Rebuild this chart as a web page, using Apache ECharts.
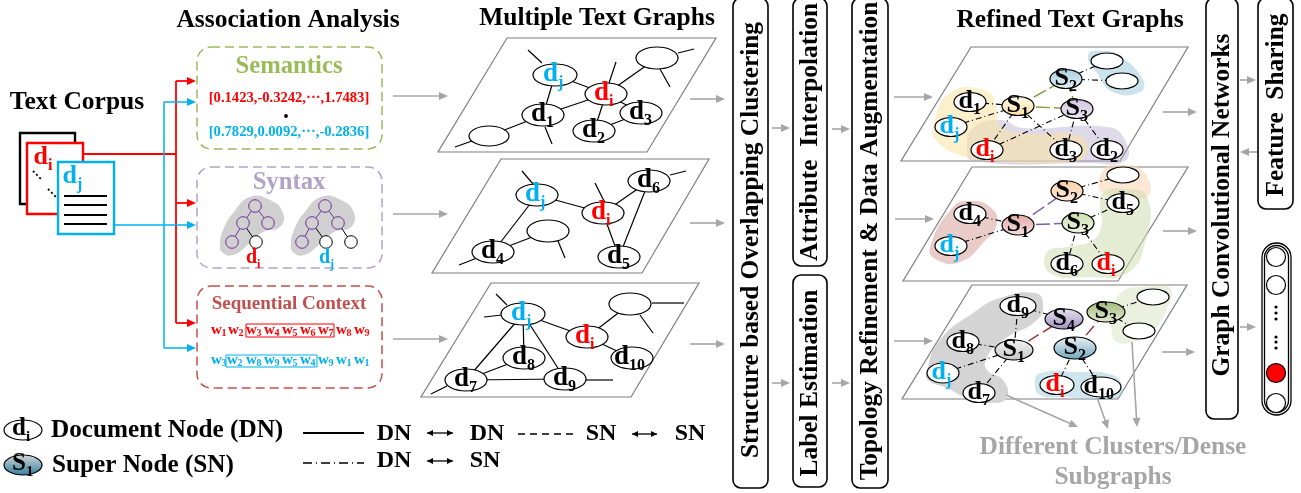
<!DOCTYPE html>
<html><head><meta charset="utf-8">
<style>html,body{margin:0;padding:0;background:#fff}#c{width:1301px;height:493px}</style>
<script src="https://cdn.jsdelivr.net/npm/echarts@6/dist/echarts.min.js"></script>
</head><body><div id="c"></div>
<script>
var RED='#ff0000',BLUE='#00b0f0',BLK='#000000',GRY='#a6a6a6',GREEN='#9bbb59',PUR='#b3a2c7',BRN='#c0504d';

// panels (parallelograms)
var panels=[
 [507,38,716,38,647,152,438,152],[501,159,709,159,642,273,432,273],[491,283,699,283,631,397,421,397],
 [971,47,1188,47,1120,161,901,161],[972,167,1188,167,1118,281,903,281],[972,285,1187,285,1118,399,902,399]];

// cluster blobs: colour, outline
var blobs=[
 ['rgba(178,166,205,0.42)',[1000,120,1023,128,1107,127,1125,140,1125,161,1090,163,973,161,967,147,973,128]],
 ['rgba(250,226,160,0.55)',[933,127,950,93,987,91,996,106,1000,125,1023,133,1080,136,1087,153,1075,161,990,161,957,154,936,140]],
 ['rgba(150,200,220,0.5)',[1088,55,1103,51,1120,56,1143,80,1140,92,1113,92,1097,73]],
 ['rgba(215,160,155,0.55)',[930,248,953,207,970,201,990,207,997,223,983,243,960,262,937,260]],
 ['rgba(250,215,185,0.6)',[1103,170,1117,165,1143,171,1147,197,1103,193]],
 ['rgba(205,220,175,0.55)',[1103,193,1123,189,1147,197,1145,243,1127,273,1090,277,1050,273,1047,252,1067,247,1093,240,1102,223,1100,207]],
 ['#d4d4d4',[927,370,940,340,973,313,1000,298,1035,293,1043,303,1037,320,1003,340,987,357,987,370,1003,380,1007,397,993,403,967,398,947,388,928,380]],
 ['rgba(150,200,220,0.45)',[1035,383,1040,373,1077,372,1113,375,1122,387,1117,398,1063,397,1040,395]],
 ['rgba(205,220,175,0.4)',[1112,313,1122,292,1143,287,1170,288,1165,313,1150,333,1132,342,1117,342,1112,333]],
 // syntax trees
 ['#d0d0d0',[220,243,223,230,233,213,250,197,270,200,283,213,280,227,263,232,250,243,233,255,222,252]],
 ['#d0d0d0',[291,243,294,230,304,213,321,197,341,200,354,213,351,227,334,232,321,243,304,255,293,252]]];

// text graphs: id,x,y,rx,ry,letter,subscript,text colour,fill top,fill bottom
var graphNodes1=[
 ['dj',555,75,22,11,'d','j',BLUE],['di',606,94,21,11,'d','i',RED],['d1',543,115,21,11,'d','1',BLK],
 ['d2',594,131,21,11,'d','2',BLK],['d3',641,113,21,11,'d','3',BLK],['a',657,58,21,11,'','',BLK],['b',489,136,20,10,'','',BLK]];
var graphEdges1=[['dj','di'],['dj','d1'],['d1','di'],['a','di'],['di','d2'],['d2','d3'],['di','d3'],['b','d1']];
var graphNodes2=[
 ['dj',537,195,21,11,'d','j',BLUE],['di',603,213,21,11,'d','i',RED],['d6',649,181,21,11,'d','6',BLK],
 ['a',548,231,21,11,'','',BLK],['d4',493,252,21,11,'d','4',BLK],['d5',619,257,21,11,'d','5',BLK]];
var graphEdges2=[['dj','di'],['di','d6'],['d6','d5'],['di','d5'],['dj','d4'],['d4','a']];
var graphNodes3=[
 ['dj',523,314,22,11,'d','j',BLUE],['di',587,337,21,11,'d','i',RED],['a',630,304,21,11,'','',BLK],
 ['d8',524,358,21,11,'d','8',BLK],['d10',632,358,21,11,'d','10',BLK],['d7',466,380,21,11,'d','7',BLK],['d9',565,379,21,11,'d','9',BLK]];
var graphEdges3=[['dj','di'],['di','a'],['di','d10'],['dj','d7'],['dj','d8'],['dj','d9'],['d8','d7'],['d7','d9']];

var refinedNodes1=[
 ['d1',970,102,16,9.5,'d','1',BLK],['S1',1018,106,16,9.5,'S','1',BLK,'#fffbea','#f8dfa6'],['S2',1066,79,16,9.5,'S','2',BLK,'#a9d0df','#e3f0f5'],
 ['S3',1077,109,16,9.5,'S','3',BLK,'#cfc6e0','#ece8f3'],['dj',951,127,16,9.5,'d','j',BLUE],['di',987,150,16,9.5,'d','i',RED],
 ['d3',1066,150,16,9.5,'d','3',BLK],['d2',1107,150,16,9.5,'d','2',BLK],['a',1107,61,16,8,'','',BLK],['b',1122,81,16,8,'','',BLK]];
var refinedEdges1=[['d1','S1','dd'],['dj','S1','dd'],['di','S1','dd'],['S1','d3','dd'],['di','S3','dd'],['S3','d3','dd'],['S3','d2','dd'],['S2','a','dd'],['S2','b','dd'],
 ['S1','S2','g'],['S1','S3','g'],['S2','S3','g']];
var refinedNodes2=[
 ['S1',1018,225,16,10,'S','1',BLK,'#e3aaa8','#f6dede'],['S2',1067,191,16,10,'S','2',BLK,'#fbd0a8','#fdeadb'],['S3',1078,223,16,10,'S','3',BLK,'#cfe0b0','#eef4e2'],
 ['d4',970,214,16,9.5,'d','4',BLK],['dj',951,246,16,9.5,'d','j',BLUE],['a',1123,175,16,8,'','',BLK],['d5',1123,203,16,9.5,'d','5',BLK],
 ['d6',1067,264,16,9.5,'d','6',BLK],['di',1108,264,16,9.5,'d','i',RED]];
var refinedEdges2=[['d4','S1','dd'],['dj','S1','dd'],['S2','a','dd'],['S2','d5','dd'],['S3','d5','dd'],['S3','d6','dd'],['S3','di','dd'],['S1','S2','p'],['S1','S3','p']];
var refinedNodes3=[
 ['d9',1018,306,18,9.5,'d','9',BLK],['S4',1064,319,19,10,'S','4',BLK,'#e8e4ef','#9f8fbf'],['S3',1106,312,19,10,'S','3',BLK,'#a0b878','#e4ecd2'],
 ['a',1153,297,16,8,'','',BLK],['b',1139,331,16,8,'','',BLK],['d8',963,342,16,9.5,'d','8',BLK],['S1',1014,350,19,10,'S','1',BLK,'#f4f4f4','#c4c4c4'],
 ['S2',1075,348,21,11,'S','2',BLK,'#eef3f5','#6fa6bd'],['dj',943,373,16,10,'d','j',BLUE],['d7',979,393,16,9.5,'d','7',BLK],['di',1057,385,17,9.5,'d','i',RED],['d10',1101,387,20,10,'d','10',BLK]];
var refinedEdges3=[['d9','S1','dd'],['d9','S4','dd'],['d8','S1','dd'],['dj','S1','dd'],['d7','S1','dd'],['S2','di','dd'],['S2','d10','dd'],['S3','a','dd'],['S3','b','dd'],['S1','S4','b'],['S2','S3','b']];

// loose edge ends
var looseEdges=[
 [528,50,542,63],[616,62,609,83],[678,53,694,49],[660,69,670,87],[545,127,552,144],[455,147,472,141],
 [522,171,533,184],[595,183,605,203],[670,175,686,171],[558,241,565,258],[459,265,477,258],
 [496,294,507,305],[484,317,502,315],[652,303,684,303],[640,315,653,333],[586,380,613,380],[431,394,447,386]];

// grey flow arrows
var flowArrows=[
 [393,96,448,96],[393,214,448,214],[393,339,448,339],
 [690,99,725,99],[690,223,725,223],[690,344,725,344],
 [772,128,790,128],[772,383,790,383],[832,129,850,129],[832,383,850,383],
 [894,97,933,97],[895,219,934,219],[894,341,933,341],
 [1163,112,1197,112],[1163,231,1197,231],[1162,352,1195,352],
 [1240,80,1256,80],[1257,152,1240,152],[1240,327,1256,327],
 [1006,395,1078,427],[1097,397,1108,429],[1132,342,1137,427]];

// source connectors
var redPaths=[[83,154,176,154],[176,81,176,323]];
var redArrows=[[176,81,196,81],[176,203,196,203],[176,323,196,323]];
var bluePaths=[[164,102,164,348]];
var blueArrows=[[164,102,196,102],[114,225,196,225],[164,348,196,348]];

// rounded process boxes
var boxes=[[733,-2,35,490,8],[793,-2,34,268,8],[793,275,34,212,8],[852,-2,36,490,8],[1206,-2,32,421,8],[1258,-2,35,211,8]];
var dashedBoxes=[[197,47,185,102,GREEN],[197,167,185,101,PUR],[197,286,185,102,BRN]];

// rotated step labels
var stepLabels=[
 ['Structure based Overlapping Clustering',751,240],['Attribute  Interpolation',810,132],['Label Estimation',810,383],
 ['Topology Refinement & Data Augmentation',870,241],['Graph Convolutional Networks',1222,205],['Feature  Sharing',1276,105]];

// plain texts: text,x,y,size,colour
var texts=[
 ['Association Analysis',288,20,25.5,BLK],['Multiple Text Graphs',597,18,25.5,BLK],['Refined Text Graphs',1070,20,25.5,BLK],['Text Corpus',77,102,25.5,BLK],
 ['Semantics',289,67,24.7,GREEN],['[0.1423,-0.3242,···,1.7483]',289,98,14.6,RED],['[0.7829,0.0092,···,-0.2836]',289,132,14.6,BLUE],
 ['Syntax',289,183,24.7,PUR],['Sequential Context',289,304,19,BRN],
 ['Different Clusters/Dense',1113,447,25.4,GRY],['Subgraphs',1113,477,25.4,GRY],
 ['DN',394,434,24,BLK],['DN',487,434,24,BLK],['SN',601,434,24,BLK],['SN',690,434,24,BLK],['DN',394,461,24,BLK],['SN',485,461,24,BLK]];
var legendTexts=[['Document Node (DN)',51,430,25.2],['Super Node (SN)',52,465,25.2]];

// word sequences
var wordsRed=[1,2,3,4,5,6,7,8,9], wordsBlue=[3,2,8,9,5,4,9,1,1];
var wordX=[211,228,246,264,282,300,318,336,354];
var wordBlueX=[211,227,246,264,282,300,318,336,354];
var wordBoxes=[[246,324,88,13,RED],[226,355,91,12,BLUE]];

// syntax trees
var treeNodes=[[255,206,'p'],[243,223,'p'],[268,223,'p'],[232,242,'p'],[256,242,'k'],[325,206,'p'],[312,223,'p'],[338,223,'p'],[302,242,'p'],[326,242,'k'],[351,242,'k']];
var treeEdges=[[0,1,'p'],[0,2,'p'],[1,3,'p'],[1,4,'k'],[5,6,'p'],[5,7,'p'],[6,8,'p'],[6,9,'k'],[7,10,'k']];
var treeLabels=[['d','i',254,259,RED],['d','j',327,259,BLUE]];

// output capsule
var capsules=[[1262,243,29,172],[1264.5,245.5,24,167]];
var outputCircles=[[1276,257,0],[1276,285,0],[1276,373,1],[1276,403,0]];
var outputDots=[[1276,307],[1276,313],[1276,319],[1276,337],[1276,342],[1276,348]];
var scoreDots=[[286,116]];

// document sheets
var sheets=[[20,133,55,71,BLK],[27,143,56,71,RED],[58,162,56,72,BLUE]];
var sheetRules=[[64,196,107,196],[64,205,107,205],[64,215,107,215],[64,224,107,224]];
var sheetDots=[[33,171,42,180],[48,189,56,197]];
var sheetLabels=[['d','i',45,158,RED],['d','j',74,177,BLUE]];

// legend
var legendNodes=[['n',23,430,19,10,'d','i',BLK],['s',23,465,19,10,'S','1',BLK,'#d8d8d8','#2f7f9f']];
var legendLines=[[303,433,364,433,'s'],[518,434,576,434,'d'],[303,463,364,463,'dd']];
var doubleArrows=[[427,433,453,433],[632,434,657,434],[427,461,453,461]];

var FONT='"Liberation Serif","Times New Roman",serif';
function grad(a,b){return new echarts.graphic.LinearGradient(0,0,0,1,[{offset:0,color:a},{offset:1,color:b}]);}
function lineEl(api,s,stroke,w,dash){var p=api.coord([s[0],s[1]]),q=api.coord([s[2],s[3]]);
 return {type:'line',shape:{x1:p[0],y1:p[1],x2:q[0],y2:q[1]},style:{stroke:stroke,lineWidth:w,lineDash:dash||null,fill:null}};}
function head(api,x,y,ang,L,W,fill){var c=api.coord([x,y]),co=Math.cos(ang),si=Math.sin(ang);
 return {type:'polygon',shape:{points:[[c[0],c[1]],[c[0]-L*co-W*si,c[1]-L*si+W*co],[c[0]-L*co+W*si,c[1]-L*si-W*co]]},style:{fill:fill}};}
function arrowEl(api,s,stroke,w,L,W){var a=Math.atan2(s[3]-s[1],s[2]-s[0]);
 return {type:'group',children:[lineEl(api,[s[0],s[1],s[2]-L*Math.cos(a)*0.7,s[3]-L*Math.sin(a)*0.7],stroke,w),head(api,s[2],s[3],a,L,W,stroke)]};}
function txt(api,t,x,y,size,color,align,rot,vAlign){var c=api.coord([x,y]);
 return {type:'text',x:c[0],y:c[1],rotation:rot||0,style:{text:t,x:0,y:0,font:'bold '+size+'px '+FONT,fill:color,align:align||'center',verticalAlign:vAlign||'middle'}};}
function labelEls(api,letter,sub,x,y,size,color){ if(!letter) return [];
 var shift=sub.length>1?-6:0; var subSize=Math.round(size*0.6);
 return [txt(api,letter,x+3+shift,y-1,size,color,'right'),txt(api,sub,x+3+shift,y+size*0.3,subSize,color,'left')];}
function nodeEl(api,n,size){var c=api.coord([n[1],n[2]]);
 var fill=n[8]?grad(n[8],n[9]):'#ffffff';
 return {type:'group',children:[{type:'ellipse',shape:{cx:c[0],cy:c[1],rx:n[3],ry:n[4]},style:{fill:fill,stroke:'#000',lineWidth:1.2}}].concat(labelEls(api,n[5],n[6],n[1],n[2],size,n[7]))};}
function edgeEl(api,list,e){var a,b;list.forEach(function(n){if(n[0]===e[0])a=n;if(n[0]===e[1])b=n;});
 var k=e[2]||'s';var st={s:['#000',1.2,null],dd:['#000',1.1,[6,3,1,3]],g:['#7f9f3f',1.5,[14,4]],p:['#7a5fa8',1.5,[14,4]],b:['#953735',1.5,[12,5]]}[k];
 return lineEl(api,[a[1],a[2],b[1],b[2]],st[0],st[1],st[2]);}

function layer(z,draw,rows){return {type:'custom',coordinateSystem:'cartesian2d',z:z,silent:true,clip:false,animation:false,
 data:rows.map(function(r,i){return [i];}),encode:{x:0,y:0},
 renderItem:function(params,api){return draw(api,rows[params.dataIndex]);}};}

var graphs=[[graphNodes1,graphEdges1,27],[graphNodes2,graphEdges2,27],[graphNodes3,graphEdges3,27],
 [refinedNodes1,refinedEdges1,26],[refinedNodes2,refinedEdges2,26],[refinedNodes3,refinedEdges3,26]];
var allEdges=[],allNodes=[];
graphs.forEach(function(g){g[1].forEach(function(e){allEdges.push([g[0],e]);});g[0].forEach(function(n){allNodes.push([n,g[2]]);});});
legendNodes.forEach(function(n){allNodes.push([n,25]);});

var wordRows=[];
wordsRed.forEach(function(w,i){wordRows.push([w,wordX[i],330,RED]);});
wordsBlue.forEach(function(w,i){wordRows.push([w,wordBlueX[i],360,BLUE]);});

var series=[
 layer(2,function(api,s){var pts=[];for(var i=0;i<8;i+=2)pts.push(api.coord([s[i],s[i+1]]));
   return {type:'polygon',shape:{points:pts},style:{fill:'#fff',stroke:'#7f7f7f',lineWidth:1.2}};},panels),
 layer(3,function(api,b){var pts=[];for(var i=0;i<b[1].length;i+=2)pts.push(api.coord([b[1][i],b[1][i+1]]));
   return {type:'polygon',shape:{points:pts,smooth:0.5},style:{fill:b[0]}};},blobs),
 layer(4,function(api,s){return lineEl(api,s,'#000',1.2);},looseEdges),
 layer(4,function(api,r){return edgeEl(api,r[0],r[1]);},allEdges),
 layer(5,function(api,r){return nodeEl(api,r[0],r[1]);},allNodes),
 layer(6,function(api,s){return arrowEl(api,s,GRY,1.6,9,4);},flowArrows),
 layer(7,function(api,s){return lineEl(api,s,RED,1.8);},redPaths),
 layer(7,function(api,s){return lineEl(api,s,BLUE,1.5);},bluePaths),
 layer(7,function(api,s){return arrowEl(api,s,RED,1.8,9,4);},redArrows),
 layer(7,function(api,s){return arrowEl(api,s,BLUE,1.5,9,4);},blueArrows),
 layer(8,function(api,b){var c=api.coord([b[0],b[1]]);
   return {type:'rect',shape:{x:c[0],y:c[1],width:b[2],height:b[3],r:b[4]},style:{fill:'#fff',stroke:'#000',lineWidth:1.6}};},boxes),
 layer(8,function(api,b){var c=api.coord([b[0],b[1]]);
   return {type:'rect',shape:{x:c[0],y:c[1],width:b[2],height:b[3],r:14},style:{fill:'none',stroke:b[4],lineWidth:1.5,lineDash:[9,5]}};},dashedBoxes),
 layer(9,function(api,l){return txt(api,l[0],l[1],l[2],25.4,BLK,'center',Math.PI/2);},stepLabels),
 layer(9,function(api,t){return txt(api,t[0],t[1],t[2],t[3],t[4]);},texts),
 layer(9,function(api,t){return txt(api,t[0],t[1],t[2],t[3],BLK,'left');},legendTexts),
 layer(9,function(api,w){return {type:'group',children:[txt(api,'w',w[1],w[2],15,w[3],'left'),txt(api,String(w[0]),w[1]+10.5,w[2]+3,10,w[3],'left')]};},wordRows),
 layer(9,function(api,b){var c=api.coord([b[0],b[1]]);return {type:'rect',shape:{x:c[0],y:c[1],width:b[2],height:b[3]},style:{fill:'none',stroke:b[4],lineWidth:1}};},wordBoxes),
 layer(9,function(api,e){var a=treeNodes[e[0]],b=treeNodes[e[1]];return lineEl(api,[a[0],a[1],b[0],b[1]],e[2]==='p'?'#7030a0':'#000',1);},treeEdges),
 layer(10,function(api,n){var c=api.coord([n[0],n[1]]);return {type:'circle',shape:{cx:c[0],cy:c[1],r:6.3},style:{fill:n[2]==='p'?'#d0d0d0':'#fff',stroke:n[2]==='p'?'#7030a0':'#000',lineWidth:1}};},treeNodes),
 layer(10,function(api,l){return {type:'group',children:labelEls(api,l[0],l[1],l[2],l[3],20,l[4])};},treeLabels),
 layer(10,function(api,n){var c=api.coord([n[0],n[1]]);return {type:'circle',shape:{cx:c[0],cy:c[1],r:1.9},style:{fill:'#000'}};},scoreDots),
 layer(8,function(api,b){var c=api.coord([b[0],b[1]]);return {type:'rect',shape:{x:c[0],y:c[1],width:b[2],height:b[3],r:b[2]/2},style:{fill:'#fff',stroke:'#000',lineWidth:1.3}};},capsules),
 layer(9,function(api,n){var c=api.coord([n[0],n[1]]);return {type:'circle',shape:{cx:c[0],cy:c[1],r:9.5},style:{fill:n[2]?RED:'#fff',stroke:'#000',lineWidth:1.2}};},outputCircles),
 layer(9,function(api,n){var c=api.coord([n[0],n[1]]);return {type:'circle',shape:{cx:c[0],cy:c[1],r:1.6},style:{fill:'#000'}};},outputDots),
 layer(6,function(api,b){var c=api.coord([b[0],b[1]]);return {type:'rect',shape:{x:c[0],y:c[1],width:b[2],height:b[3]},style:{fill:'#fff',stroke:b[4],lineWidth:2.4}};},sheets),
 layer(7,function(api,s){return lineEl(api,s,'#000',2);},sheetRules),
 layer(7,function(api,s){return lineEl(api,s,'#000',1.8,[2,2.5]);},sheetDots),
 layer(7,function(api,l){return {type:'group',children:labelEls(api,l[0],l[1],l[2],l[3],26,l[4])};},sheetLabels),
 layer(6,function(api,s){return lineEl(api,s,'#000',s[4]==='s'?1.8:1.3,s[4]==='d'?[7,5]:s[4]==='dd'?[9,4,1,4]:null);},legendLines),
 layer(6,function(api,s){return {type:'group',children:[lineEl(api,s,'#000',1.3),
   head(api,s[2],s[3],0,6,3,'#000'),head(api,s[0],s[1],Math.PI,6,3,'#000')]};},doubleArrows)
];
var chart=echarts.init(document.getElementById('c'),null,{renderer:'canvas'});
chart.setOption({animation:false,backgroundColor:'#ffffff',tooltip:{show:false},
 grid:{left:0,right:0,top:0,bottom:0,containLabel:false},
 xAxis:{type:'value',min:0,max:1301,show:false},
 yAxis:{type:'value',min:0,max:493,inverse:true,show:false},
 series:series});
</script></body></html>
